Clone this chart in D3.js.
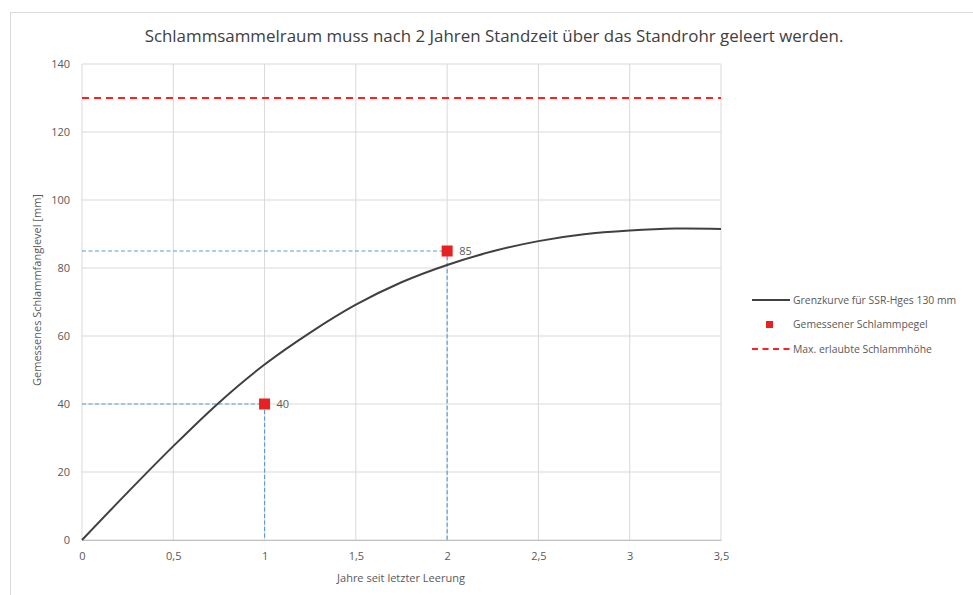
<!DOCTYPE html>
<html><head><meta charset="utf-8">
<script src="https://cdn.jsdelivr.net/npm/d3@7"></script>
<style>body{margin:0;background:#fff;} text{font-family:"Open Sans",sans-serif;}</style>
</head><body><svg id="c" width="973" height="595"></svg>
<script>
const titleText = "Schlammsammelraum  muss nach 2 Jahren Standzeit über das Standrohr geleert werden.";
const xTicks = [0, 0.5, 1, 1.5, 2, 2.5, 3, 3.5];
const yTicks = [0, 20, 40, 60, 80, 100, 120, 140];
const curveX = [0, 0.25, 0.5, 0.75, 1, 1.25, 1.5, 1.75, 2, 2.25, 2.5, 2.75, 3, 3.25, 3.5];
const curveY = [0, 14.0, 27.6, 40.4, 51.6, 61.0, 69.2, 75.8, 80.9, 84.9, 87.9, 89.9, 91.0, 91.6, 91.5];
const measX = [1, 2];
const measY = [40, 85];
const maxHeight = 130;
const legendLabels = ["Grenzkurve für SSR-Hges 130 mm", "Gemessener Schlammpegel", "Max. erlaubte Schlammhöhe"];

const svg = d3.select("#c");
svg.append("rect").attr("x",10.5).attr("y",12.5).attr("width",980).attr("height",600)
  .attr("fill","#fff").attr("stroke","#d9d9d9");

const x = d3.scaleLinear().domain([0,3.5]).range([82,721]);
const y = d3.scaleLinear().domain([0,140]).range([540,64]);
const fmt = d => String(d).replace(".", ",");

// grid
svg.append("g").selectAll("line.h").data(yTicks).join("line")
  .attr("x1",x(0)).attr("x2",x(3.5)).attr("y1",d=>y(d)).attr("y2",d=>y(d))
  .attr("stroke","#d9d9d9").attr("stroke-width",1);
svg.append("g").selectAll("line.v").data(xTicks).join("line")
  .attr("x1",d=>x(d)).attr("x2",d=>x(d)).attr("y1",y(0)).attr("y2",y(140))
  .attr("stroke","#d9d9d9").attr("stroke-width",1);

// axes
const xa = svg.append("g").attr("transform",`translate(0,${y(0)})`)
  .call(d3.axisBottom(x).tickValues(xTicks).tickFormat(fmt).tickSize(0).tickPadding(12));
const ya = svg.append("g").attr("transform",`translate(${x(0)},0)`)
  .call(d3.axisLeft(y).tickValues(yTicks).tickSize(0).tickPadding(12));
[xa,ya].forEach(a=>{
  a.select(".domain").attr("stroke","#bfbfbf");
  a.selectAll("text").attr("fill","#595959").style("font-size","11px").style("font-family","'Open Sans',sans-serif");
});
ya.select(".domain").remove();

// red limit line
svg.append("line").attr("x1",x(0)).attr("x2",x(3.5)).attr("y1",y(maxHeight)).attr("y2",y(maxHeight))
  .attr("stroke","#ff2020").attr("stroke-width",2).attr("stroke-dasharray","7,5");

// blue guide lines
measX.forEach((mx,i)=>{
  const my = measY[i];
  svg.append("path").attr("d",`M${x(0)},${y(my)}H${x(mx)}V${y(0)}`)
    .attr("fill","none").attr("stroke","#5b9bd5").attr("stroke-width",1.2).attr("stroke-dasharray","4,2.5");
});

// curve
const pts = curveX.map((d,i)=>[d,curveY[i]]);
svg.append("path").datum(pts)
  .attr("d", d3.line().x(d=>x(d[0])).y(d=>y(d[1])).curve(d3.curveCatmullRom.alpha(0.5)))
  .attr("fill","none").attr("stroke","#404040").attr("stroke-width",2);

// measured points
measX.forEach((mx,i)=>{
  const my = measY[i];
  svg.append("rect").attr("x",x(mx)-5.5).attr("y",y(my)-5.5).attr("width",11).attr("height",11)
    .attr("fill","#e82020");
  svg.append("text").attr("x",x(mx)+12).attr("y",y(my)+4).text(my)
    .attr("fill","#595959").style("font-size","11px");
});

// title
svg.append("text").attr("x",494).attr("y",42).attr("text-anchor","middle")
  .attr("fill","#404040").style("font-size","16.9px").text(titleText);

// axis titles
svg.append("text").attr("x",401).attr("y",582).attr("text-anchor","middle")
  .attr("fill","#595959").style("font-size","11px").text("Jahre seit letzter Leerung");
svg.append("text").attr("transform","translate(41,290) rotate(-90)").attr("text-anchor","middle")
  .attr("fill","#595959").style("font-size","11px").text("Gemessenes Schlammfanglevel [mm]");

// legend
const lg = svg.append("g");
lg.append("line").attr("x1",752).attr("x2",790).attr("y1",300).attr("y2",300)
  .attr("stroke","#404040").attr("stroke-width",2);
lg.append("rect").attr("x",766).attr("y",321).attr("width",7).attr("height",7).attr("fill","#e82020");
lg.append("line").attr("x1",752).attr("x2",790).attr("y1",349).attr("y2",349)
  .attr("stroke","#ff2020").attr("stroke-width",2).attr("stroke-dasharray","6,4.5");
legendLabels.forEach((t,i)=>{
  lg.append("text").attr("x",793).attr("y",303.5+i*24.5).text(t)
    .attr("fill","#595959").style("font-size","10.4px");
});
</script></body></html>
